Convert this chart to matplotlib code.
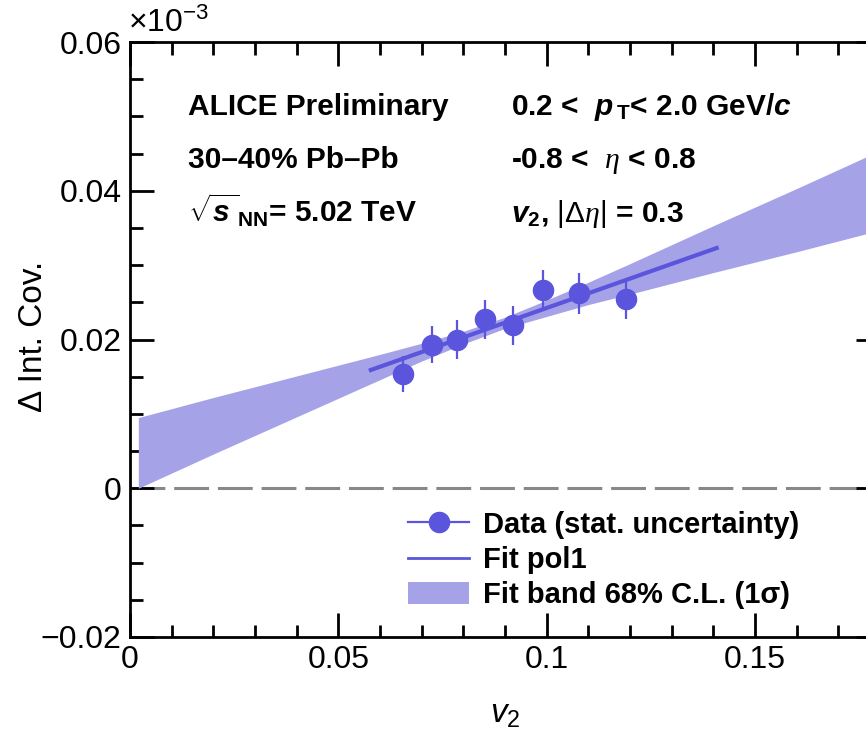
import matplotlib
matplotlib.use('Agg')
import matplotlib.pyplot as plt
from matplotlib.lines import Line2D
from matplotlib.patches import Patch

plt.rcParams['font.family'] = 'Liberation Sans'
plt.rcParams['mathtext.fontset'] = 'custom'
plt.rcParams['mathtext.rm'] = 'Liberation Sans'
plt.rcParams['mathtext.it'] = 'Liberation Sans:italic'
plt.rcParams['mathtext.bf'] = 'Liberation Sans:bold'
plt.rcParams['mathtext.bfit'] = 'Liberation Sans:bold:italic'
plt.rcParams['mathtext.sf'] = 'Liberation Serif:italic'

# data (y in units of 1e-3)
v2 = [0.0655, 0.0724, 0.0786, 0.0851, 0.0919, 0.0990, 0.1077, 0.1190]
dcov = [0.0154, 0.0193, 0.0200, 0.0227, 0.0219, 0.0267, 0.0262, 0.0255]
dcov_err = [0.0024, 0.0025, 0.0026, 0.0026, 0.0026, 0.0026, 0.0028, 0.0027]

# fit pol1
fit_x = [0.0578, 0.1408]
fit_y = [0.0159, 0.0323]

# 68% band edges
band_x = [0.002, 0.02, 0.04, 0.06, 0.07, 0.08, 0.09, 0.10, 0.11, 0.12, 0.14, 0.16, 0.18]
band_lo = [0.0000, 0.0046, 0.0096, 0.0146, 0.0171, 0.0194, 0.0215, 0.0231, 0.0247, 0.0261, 0.0290, 0.0318, 0.0347]
band_hi = [0.0095, 0.0122, 0.0151, 0.0180, 0.0195, 0.0211, 0.0230, 0.0253, 0.0277, 0.0302, 0.0353, 0.0403, 0.0454]

col = '#5a55dc'
bandcol = '#a5a2e8'

fig = plt.figure(figsize=(8.66, 7.31), dpi=100)
ax = fig.add_axes([130/866, 94/731, 750/866, 595/731])

ax.fill_between(band_x, band_lo, band_hi, color=bandcol, lw=0, zorder=2)
ax.axhline(0, color='#888888', lw=2.2, ls=(0, (11.4, 2.9)), zorder=1)
ax.plot(fit_x, fit_y, color=col, lw=3, zorder=3)
ax.errorbar(v2, dcov, yerr=dcov_err, fmt='o', color=col, ms=14.5, elinewidth=1.6,
            capsize=0, zorder=4)

ax.set_xlim(0, 0.18)
ax.set_ylim(-0.02, 0.06)
ax.set_xticks([0, 0.05, 0.1, 0.15], ['0', '0.05', '0.1', '0.15'])
ax.set_xticks([i*0.01 for i in range(19)], minor=True)
ax.set_yticks([-0.02, 0, 0.02, 0.04, 0.06], ['\u22120.02', '0', '0.02', '0.04', '0.06'])
ax.set_yticks([-0.02 + i*0.005 for i in range(17)], minor=True)
ax.tick_params(which='both', direction='in', top=True, right=True, width=2,
               labelsize=23, pad=6)
ax.tick_params(which='major', length=17)
ax.tick_params(which='minor', length=9)
for s in ax.spines.values():
    s.set_linewidth(2)

ax.set_xlabel(r'$v_{2}$', fontsize=24)
ax.xaxis.set_label_coords(0.5, -0.105)
ax.set_ylabel('\u0394 Int. Cov.', fontsize=24)
ax.yaxis.set_label_coords(-0.108, 0.505)

ax.text(-0.003, 1.005, r'$\times10^{-3}$', transform=ax.transAxes, fontsize=23,
        ha='left', va='bottom')

tx1, tx2 = 0.077, 0.508
rows = [0.877, 0.788, 0.697]
kw = dict(transform=ax.transAxes, fontsize=21.5, fontweight='bold', va='baseline')
ax.text(tx1, rows[0], 'ALICE Preliminary', **kw)
ax.text(tx1, rows[1], '30\u201340% Pb\u2013Pb', **kw)
ax.text(tx1, rows[2], r'${\sqrt{\mathbfit{s}\,}}_{\mathbf{NN}}$= 5.02 TeV', **kw)
ax.text(tx2, rows[0], r'0.2 <  $\mathbfit{p}_{\,\mathbf{T}}$< 2.0 GeV/$\mathbfit{c}$', **kw)
ax.text(tx2, rows[1], r'-0.8 <  $\mathsf{\eta}$ < 0.8', **kw)
ax.text(tx2, rows[2], r'$\mathbfit{v}_{\mathbf{2}}$, $|\Delta\mathsf{\eta}|$ = 0.3', **kw)

handles = [
    Line2D([], [], color=col, marker='o', ms=14.5, lw=1.6),
    Line2D([], [], color=col, lw=2),
    Patch(facecolor=bandcol, edgecolor='none'),
]
labels = ['Data (stat. uncertainty)', 'Fit pol1', 'Fit band 68% C.L. (1\u03c3)']
ax.legend(handles, labels, loc='upper left', bbox_to_anchor=(0.371, 0.212),
          frameon=False, prop={'size': 21, 'weight': 'bold'}, handlelength=2.1,
          handletextpad=0.45, labelspacing=0.25, borderpad=0, borderaxespad=0,
          handleheight=0.8)

fig.savefig('out.png', dpi=100)
